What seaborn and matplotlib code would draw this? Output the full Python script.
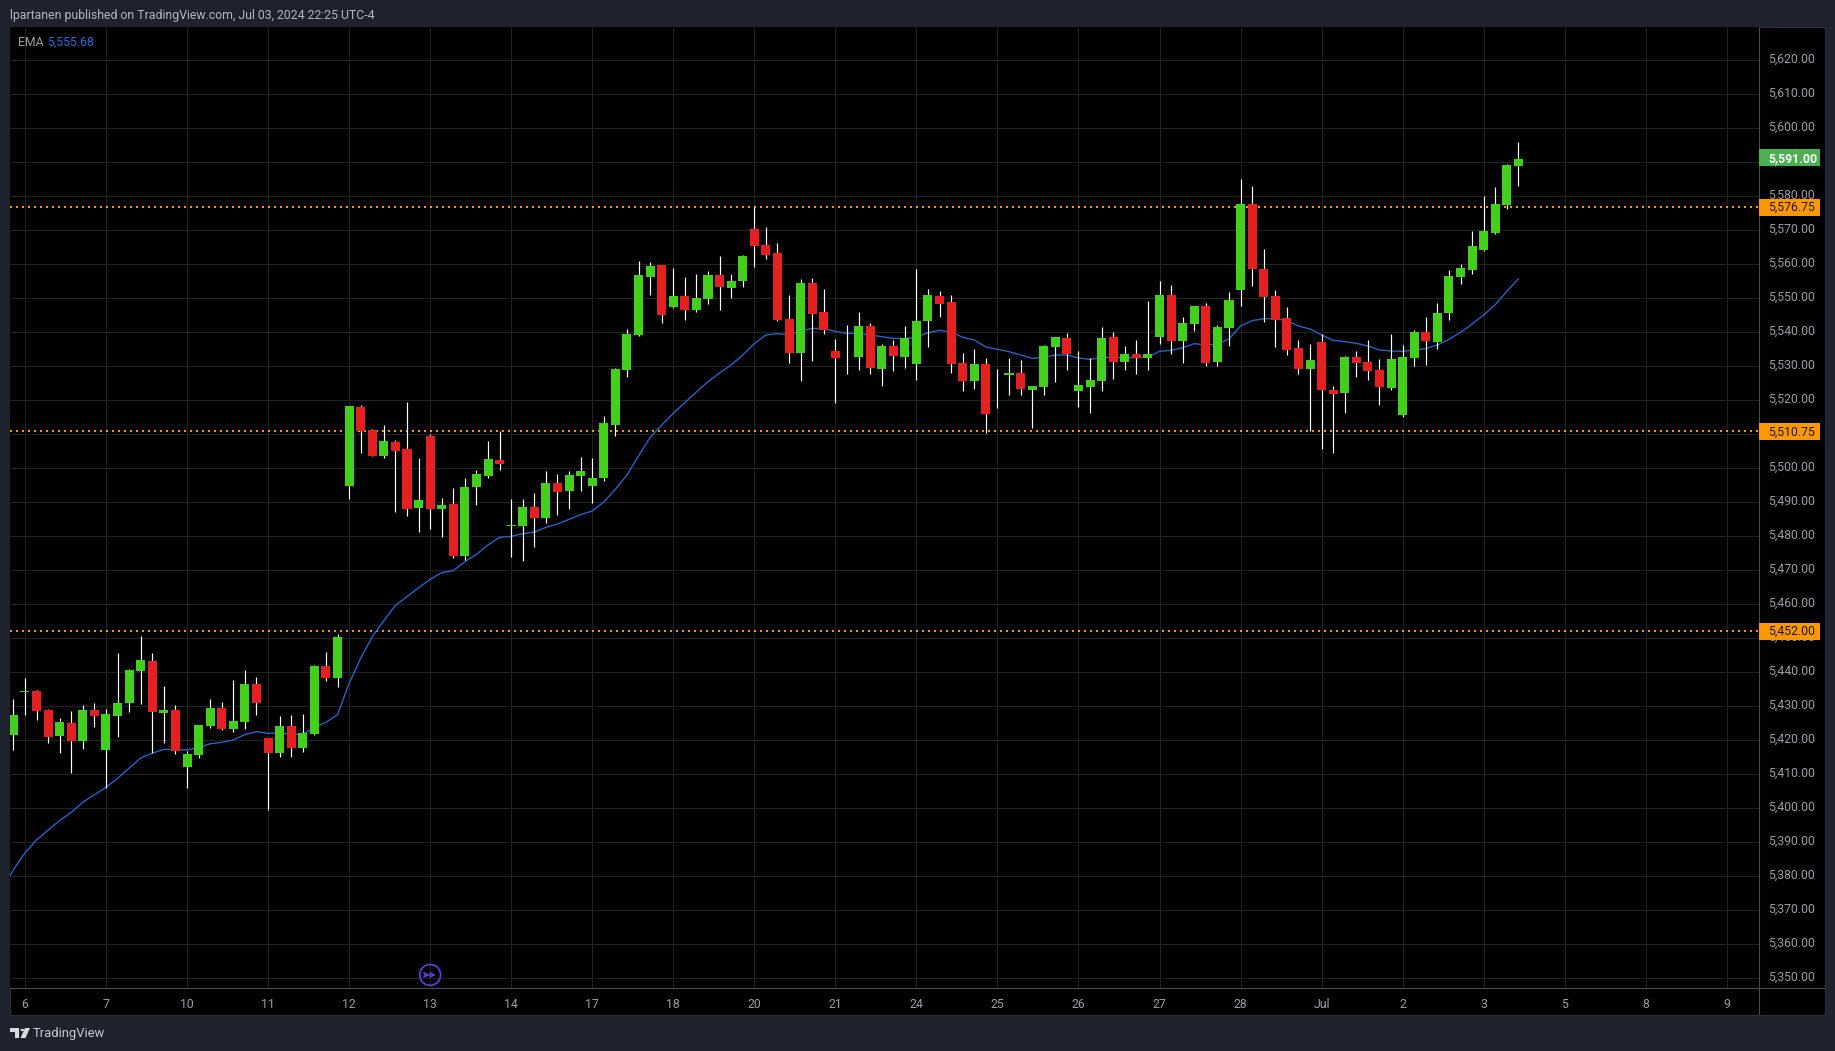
#!/usr/bin/env python3
"""ES 1H-style candles with EMA and key levels, TradingView dark look."""
import numpy as np
import pandas as pd
import matplotlib.pyplot as plt
from matplotlib.patches import Polygon, Circle
from matplotlib.transforms import ScaledTranslation
import seaborn as sns

# bars run from index -1; index 0 is the "6" tick
opens = [5421.5, 5434.25, 5434.5, 5428.75, 5421.25, 5425, 5419.75, 5428.75, 5417, 5427, 5431,
         5440.25, 5443.25, 5428, 5428.75, 5412, 5415.5, 5424, 5429.5, 5423.25, 5425.25,
         5436.5, 5420.5, 5416.25, 5424, 5417.75, 5421.75, 5441.75, 5438.25, 5494.75, 5518,
         5511.25, 5503.5, 5507.75, 5505.5, 5488.25, 5509.5, 5488, 5489.5, 5474, 5494.5,
         5497.5, 5502.25, 5483, 5483, 5488.5, 5485.25, 5495.5, 5493.25, 5497.75, 5494.75,
         5497, 5512.75, 5528.75, 5539, 5556.25, 5559.75, 5547.25, 5550.5, 5546.5, 5549.75,
         5556.75, 5553, 5555, 5570.25, 5565.5, 5563.25, 5543.75, 5533.75, 5554.5, 5546,
         5534.5, 5532.5, 5532.75, 5541.75, 5529, 5536, 5532.5, 5530.5, 5543.25, 5550.5,
         5548.75, 5531, 5525.5, 5530.5, 5527.5, 5527.25, 5528, 5523, 5523.75, 5535.5,
         5538.25, 5522.75, 5523.75, 5525.5, 5538.5, 5531.25, 5533.5, 5532.25, 5538.5, 5551,
         5537.25, 5542.25, 5547.75, 5531.25, 5541.25, 5552.25, 5577.75, 5558.5, 5550.5, 5544,
         5535.25, 5529, 5537, 5523, 5522, 5532.75, 5531.25, 5528.75, 5523.5, 5515.5,
         5532.25, 5540, 5537, 5545.5, 5556.25, 5558.25, 5564, 5569, 5577.25, 5588.75]
highs = [5432, 5438.25, 5434.75, 5429, 5426.5, 5428.5, 5430.25, 5431, 5429, 5445.5, 5441,
         5450.5, 5445.5, 5436, 5430.25, 5416.75, 5424.5, 5432, 5431.25, 5437.75, 5440.5,
         5438.5, 5420.5, 5427, 5427.25, 5427.75, 5442, 5446, 5451.25, 5518.25, 5518.5,
         5511.5, 5512.75, 5508.25, 5519.5, 5503, 5510, 5491.25, 5494, 5497, 5499.5,
         5508, 5511, 5491, 5491, 5492.75, 5499, 5498.25, 5499, 5503.25, 5503,
         5515.25, 5529.5, 5541, 5561, 5560.5, 5559.75, 5558.75, 5556.25, 5557, 5558,
         5562.25, 5557, 5562.75, 5576.75, 5571, 5566.25, 5551, 5555.5, 5556, 5552.75,
         5538, 5542, 5546, 5542.75, 5536.5, 5537.5, 5541.75, 5558.5, 5552.75, 5552,
         5551, 5533.75, 5535, 5532.25, 5529, 5532.25, 5531.75, 5524, 5536.25, 5538.5,
         5539.75, 5534.5, 5532.25, 5541.5, 5540, 5536, 5537.75, 5549, 5555, 5553.75,
         5544.5, 5547.75, 5548.5, 5542, 5551.75, 5585, 5583, 5564.5, 5552.25, 5547.25,
         5537.75, 5536.5, 5539.5, 5524, 5533, 5534.5, 5537.75, 5532, 5539.5, 5536.25,
         5540.5, 5544.5, 5548.5, 5558.25, 5560, 5569.75, 5580, 5582.75, 5589.5, 5596]
lows = [5417, 5427.25, 5426, 5419, 5416.25, 5410.25, 5417.25, 5423.75, 5406, 5421, 5428.25,
        5430.5, 5416.25, 5419, 5416, 5406, 5414.75, 5423.5, 5423, 5422.25, 5423.25,
        5427.25, 5399.5, 5415, 5415, 5416.5, 5421.5, 5437.25, 5435.5, 5491, 5504.5,
        5503.5, 5503, 5487, 5486, 5481.25, 5482, 5479.75, 5473.5, 5473, 5489,
        5497, 5499.5, 5473.75, 5472.75, 5476.75, 5483.75, 5486.25, 5488, 5493.25, 5489.75,
        5496.25, 5509.5, 5526.75, 5538.75, 5551, 5542.75, 5547, 5543.5, 5546, 5548.25,
        5546.5, 5550, 5553.25, 5559, 5561.5, 5543.25, 5531, 5525.5, 5531.5, 5539.5,
        5519, 5527.5, 5528.75, 5527.5, 5524, 5528.5, 5529.5, 5526, 5535.5, 5544.5,
        5528, 5522.75, 5523.25, 5510.25, 5517.75, 5521.5, 5521.5, 5511.75, 5521.5, 5525.25,
        5528.75, 5518, 5516.25, 5522.75, 5526.25, 5528.75, 5527.75, 5528.75, 5536.5, 5533.5,
        5531, 5540.25, 5530, 5530, 5536, 5547.75, 5553.5, 5543, 5535.5, 5533.25,
        5527.75, 5511, 5505.5, 5504.5, 5516.25, 5526.75, 5526, 5518.5, 5523, 5515,
        5530, 5530.25, 5535, 5543.5, 5554, 5557, 5563.75, 5568.75, 5576.25, 5583]
closes = [5427.25, 5434.5, 5428.5, 5421, 5425.25, 5419.75, 5428.75, 5427, 5427.75, 5431, 5440.5,
          5443.5, 5428.25, 5428.75, 5416.75, 5416, 5424.5, 5429.5, 5423.25, 5425.5, 5436.5,
          5431, 5416.25, 5424, 5417.75, 5422, 5441.75, 5438.25, 5450.25, 5518.25, 5511,
          5503.5, 5508, 5505, 5488, 5490.5, 5488, 5489, 5474, 5494.5, 5498.25,
          5502.75, 5501.25, 5483.25, 5488.5, 5485.25, 5495.5, 5493, 5498, 5499, 5497,
          5513.25, 5529, 5539.5, 5556.75, 5559.5, 5545, 5550.5, 5546.5, 5550, 5556.75,
          5553.25, 5555, 5562.25, 5565.25, 5562.75, 5543.5, 5533.75, 5554.5, 5545.25, 5540.5,
          5532.25, 5532.75, 5541.75, 5529.5, 5536, 5533, 5538.25, 5543.25, 5551, 5548.25,
          5530.5, 5525.5, 5530.5, 5516, 5527.75, 5528, 5523.25, 5524, 5536, 5538.5,
          5533.5, 5524.5, 5526, 5538.25, 5531.25, 5533.5, 5532.25, 5533.5, 5551, 5537.25,
          5542.75, 5547.75, 5531, 5541.5, 5549.5, 5577.75, 5558.5, 5550.25, 5543.5, 5534.75,
          5529, 5531.75, 5523, 5521.75, 5532.75, 5531, 5528.5, 5523.75, 5532, 5532.75,
          5540, 5537.25, 5545.5, 5556.5, 5558.75, 5565.25, 5569.75, 5577.75, 5589, 5591]

# EMA starts one bar before the first visible candle
ema = [5375.9, 5381.8, 5386.8, 5390.6, 5393.5, 5396.3, 5398.7, 5401.7, 5403.9, 5406.1, 5408.7,
       5411.7, 5414.7, 5416.1, 5417.25, 5417.15, 5417.06, 5417.74, 5418.9, 5419.3, 5420,
       5421.6, 5422.45, 5421.96, 5422.06, 5421.67, 5421.67, 5423.7, 5425.2, 5427.45, 5436.66,
       5444, 5450.4, 5455.1, 5459.6, 5462.15, 5464.8, 5467.25, 5469.2, 5469.8, 5472.45,
       5474.6, 5477.35, 5479.6, 5479.9, 5480.68, 5481.17, 5482.54, 5483.52, 5484.9, 5486.27,
       5487.35, 5490, 5493.72, 5497.94, 5503.53, 5509, 5512.64, 5516.07, 5519.21, 5522.35,
       5525.39, 5527.94, 5530.29, 5533.23, 5536.56, 5539.12, 5539.5, 5539.21, 5540.29, 5541.07,
       5540.98, 5540.19, 5539.6, 5539.6, 5539.12, 5538.62, 5538.13, 5538.04, 5538.43, 5539.8,
       5540.49, 5540, 5538.43, 5537.65, 5535.59, 5534.9, 5534.22, 5533.24, 5532.25, 5532.55,
       5533.24, 5533.24, 5532.35, 5531.96, 5532.45, 5532.65, 5532.45, 5532.45, 5532.65, 5534.31,
       5534.61, 5535.39, 5536.57, 5536.18, 5536.47, 5537.94, 5541.76, 5543.33, 5543.92, 5543.92,
       5543.33, 5541.76, 5540.88, 5539.12, 5537.55, 5537.16, 5536.67, 5535.88, 5534.7, 5534.41,
       5534.31, 5534.7, 5535.1, 5536.17, 5537.84, 5539.9, 5542.35, 5545, 5548.04, 5551.96, 5555.68]

date_labels = ["6", "7", "10", "11", "12", "13", "14", "17", "18", "20", "21", "24", "25",
               "26", "27", "28", "Jul", "2", "3", "5", "8", "9"]
key_levels = [5576.75, 5510.75, 5452.00]
price_ticks = list(range(5350, 5630, 10))
last_price = 5591.00

W, H = 1835, 1051
PANEL = "#1e222d"
BORDER = "#2a2e39"
AXIS_LINE = "#4a4a4a"
GRID = "#222222"
UP = "#43d01c"
DOWN = "#e52020"
LEVEL = "#ff9800"
EMA_COLOR = "#2962c8"
MARKER = "#5d3fd3"
TEXT = "#9a9da5"
FONT = ["Roboto", "DejaVu Sans"]
FS = 8.8
BARS_PER_DAY = 7


def px_axes(fig, left, top, right, bottom):
    return fig.add_axes([left / W, 1 - bottom / H, (right - left) / W, (bottom - top) / H])


def main():
    sns.set_theme(style="dark")
    plt.rcParams["font.family"] = FONT

    df = pd.DataFrame({"open": opens, "high": highs, "low": lows, "close": closes})
    df["i"] = np.arange(-1, len(df) - 1)
    df["top"] = df[["open", "close"]].max(axis=1)
    df["bottom"] = df[["open", "close"]].min(axis=1)
    df["color"] = np.where(df["close"] >= df["open"], UP, DOWN)
    ema_df = pd.DataFrame({"i": np.arange(-2, len(ema) - 2), "ema": ema})

    fig = plt.figure(figsize=(W / 100, H / 100), dpi=100, facecolor=PANEL)
    ax = px_axes(fig, 10, 27, 1759, 988)
    ax_price = px_axes(fig, 1759, 27, 1825, 988)
    ax_time = px_axes(fig, 10, 988, 1759, 1015)

    ylim = (5347.06, 5629.7)
    xlim = (-1.29, 149.78)
    ticks_x = [k * BARS_PER_DAY for k in range(len(date_labels))]

    # main pane
    ax.set_facecolor("black")
    ax.set_xlim(xlim)
    ax.set_ylim(ylim)
    ax.set_xticks(ticks_x)
    ax.set_yticks(price_ticks)
    ax.tick_params(left=False, bottom=False, labelleft=False, labelbottom=False)
    ax.grid(True, color=GRID, lw=0.75)
    ax.set_axisbelow(True)
    for level in key_levels:
        ax.axhline(level, color=LEVEL, lw=1.44, ls=(0, (1, 2)), zorder=2)
    sns.lineplot(data=ema_df, x="i", y="ema", ax=ax, color=EMA_COLOR, lw=1.0, zorder=3,
                 errorbar=None, legend=False)
    ax.set_xlabel("")
    ax.set_ylabel("")
    ax.vlines(df["i"], df["low"], df["high"], color="white", lw=0.85, zorder=4)
    ax.bar(df["i"], df["top"] - df["bottom"], bottom=df["bottom"], width=0.78,
           color=df["color"], linewidth=0, zorder=5)
    for side in ax.spines.values():
        side.set_visible(False)

    # idea marker near the bottom of the pane
    marker_x, marker_p = 35, 5350.9
    ax.scatter([marker_x], [marker_p], s=225, facecolor="none", edgecolor=MARKER, lw=1.3,
               zorder=6, clip_on=False)
    for start, end in ((marker_x - 0.45, marker_x + 0.5), (marker_x - 0.5, marker_x - 0.02)):
        ax.annotate("", xy=(end, marker_p), xytext=(start, marker_p),
                    arrowprops=dict(arrowstyle="->", color=MARKER, lw=1.1, mutation_scale=8,
                                    shrinkA=0, shrinkB=0), zorder=7)

    # price scale
    ax_price.set_facecolor("black")
    ax_price.set_ylim(ylim)
    ax_price.set_xlim(0, 66)
    ax_price.set_xticks([])
    ax_price.set_yticks(price_ticks)
    ax_price.set_yticklabels([f"{p:,.2f}" for p in price_ticks], ha="left", color=TEXT, fontsize=FS)
    ax_price.tick_params(axis="y", left=False, right=False, labelleft=True, labelright=False,
                         pad=-6.4, direction="in")
    nudge = ScaledTranslation(0, 2.2 / 100, fig.dpi_scale_trans)
    for label in ax_price.get_yticklabels():
        label.set_transform(label.get_transform() + nudge)
    ax_price.grid(False)
    for name, side in ax_price.spines.items():
        side.set_color(BORDER if name != "left" else AXIS_LINE)
        side.set_linewidth(0.8)
    for level in key_levels:
        ax_price.barh(level, 61, height=5.0, left=0, color=LEVEL, linewidth=0, zorder=5)
        ax_price.text(9, level + 0.3, f"{level:,.2f}", color="#1a1a1a", fontsize=FS,
                      va="center_baseline", zorder=6)
    ax_price.barh(last_price + 0.2, 61, height=5.0, left=0, color="#4caf50", linewidth=0, zorder=5)
    ax_price.text(9, last_price + 0.5, f"{last_price:,.2f}", color="white", fontsize=FS,
                  fontweight="bold", va="center_baseline", zorder=6)

    # time scale
    ax_time.set_facecolor("black")
    ax_time.set_xlim(xlim)
    ax_time.set_ylim(0, 1)
    ax_time.set_yticks([])
    ax_time.set_xticks(ticks_x)
    ax_time.set_xticklabels(date_labels, color=TEXT, fontsize=FS)
    ax_time.tick_params(axis="x", bottom=False, top=False, pad=-18.2)
    ax_time.grid(False)
    for name, side in ax_time.spines.items():
        side.set_color(BORDER if name != "top" else AXIS_LINE)
        side.set_linewidth(0.8)

    # corner patch under the price scale
    corner = px_axes(fig, 1759, 988, 1825, 1015)
    corner.set_facecolor("black")
    corner.set_xticks([])
    corner.set_yticks([])
    for name, side in corner.spines.items():
        side.set_color(AXIS_LINE if name in ("top", "left") else BORDER)
        side.set_linewidth(0.8)

    # header, legend and footer text
    fig.text(10 / W, 1 - 15 / H, "lpartanen published on TradingView.com, Jul 03, 2024 22:25 UTC-4",
             color="#b2b5be", fontsize=FS, va="center")
    fig.text(18 / W, 1 - 42 / H, "EMA", color=TEXT, fontsize=FS, va="center")
    fig.text(47 / W, 1 - 42 / H, f"{ema[-1]:,.2f}", color="#2a6fdb", fontsize=FS, va="center")
    fig.text(33 / W, 1 - 1033 / H, "TradingView", color="#c8cad0", fontsize=9.4, va="center")

    # logo
    def to_fig(points):
        return [(x / W, 1 - y / H) for x, y in points]

    logo_color = "#d8dae0"
    fig.add_artist(Polygon(to_fig([(10, 1028), (19, 1028), (19, 1038), (14.5, 1038),
                                   (14.5, 1032), (10, 1032)]),
                           closed=True, fc=logo_color, lw=0, transform=fig.transFigure))
    fig.add_artist(Circle((22.3 / W, 1 - 1030 / H), 2.0 / W, fc=logo_color, lw=0,
                          transform=fig.transFigure))
    fig.add_artist(Polygon(to_fig([(25, 1028), (30, 1028), (25.5, 1038), (20.5, 1038)]),
                           closed=True, fc=logo_color, lw=0, transform=fig.transFigure))

    fig.savefig("out.png", dpi=100, facecolor=PANEL)
    plt.close(fig)


if __name__ == "__main__":
    main()
